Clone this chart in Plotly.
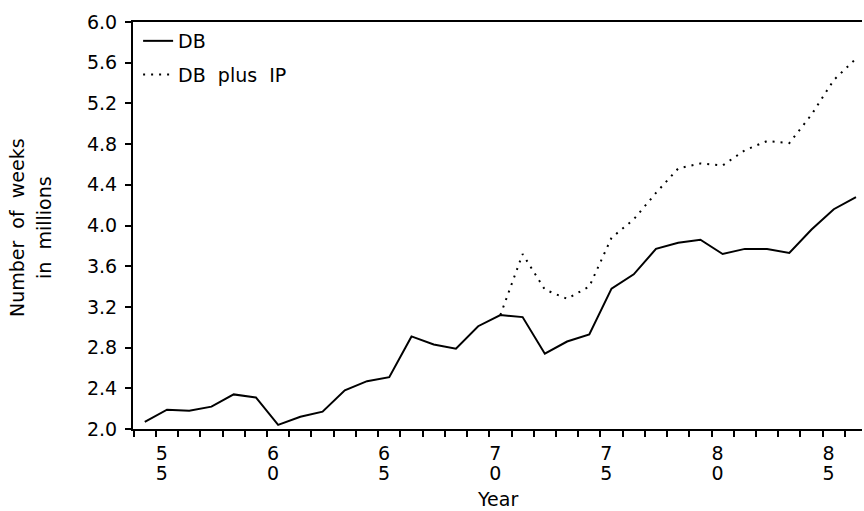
import plotly.graph_objects as go

# ---- data ----
years_db = list(range(1954, 1987))
db = [2.07, 2.19, 2.18, 2.22, 2.34, 2.31, 2.04, 2.12, 2.17, 2.38, 2.47,
      2.51, 2.91, 2.83, 2.79, 3.01, 3.12, 3.10, 2.74, 2.86, 2.93, 3.38,
      3.52, 3.77, 3.83, 3.86, 3.72, 3.77, 3.77, 3.73, 3.96, 4.16, 4.28]

years_ip = list(range(1970, 1987))
db_plus_ip = [3.12, 3.72, 3.37, 3.28, 3.40, 3.88, 4.06, 4.32, 4.56, 4.61,
              4.59, 4.74, 4.83, 4.81, 5.09, 5.43, 5.64]

label_years = [1955, 1960, 1965, 1970, 1975, 1980, 1985]
tick_top = [str(y)[2] for y in label_years]      # tens digit
tick_bottom = [str(y)[3] for y in label_years]   # units digit

FONT = "DejaVu Sans"
FS = 19
BLACK = "#000000"
X_RANGE = [1953.47, 1986.27]
TICK_POS = [y - 0.5 for y in label_years]

fig = go.Figure()
fig.add_trace(go.Scatter(
    x=years_db, y=db, mode="lines", name="DB",
    line=dict(color=BLACK, width=2), legendgroup="a"))
fig.add_trace(go.Scatter(
    x=years_ip, y=db_plus_ip, mode="lines", name="DB\u00a0\u00a0plus\u00a0\u00a0IP",
    line=dict(color=BLACK, width=2, dash="2px,6px"), legendgroup="b"))
# empty trace so the second (units-digit) label axis is drawn
fig.add_trace(go.Scatter(x=[], y=[], xaxis="x2", yaxis="y", mode="lines",
                         showlegend=False, hoverinfo="skip"))

fig.update_layout(
    width=864, height=511,
    margin=dict(l=133, r=2, t=22, b=82, autoexpand=False),
    paper_bgcolor="white", plot_bgcolor="white",
    font=dict(family=FONT, size=FS, color=BLACK),
    showlegend=True,
    legend=dict(x=0.007, y=1, xanchor="left", yanchor="top",
                bgcolor="rgba(0,0,0,0)", font=dict(size=FS),
                tracegroupgap=6, itemwidth=30),
    xaxis=dict(
        range=X_RANGE, automargin=False,
        tickmode="array", tickvals=TICK_POS, ticktext=tick_top,
        ticks="outside", ticklen=6, tickwidth=2, tickcolor=BLACK,
        ticklabelshift=6,
        minor=dict(tickmode="linear", tick0=0.5, dtick=1, ticks="outside",
                   ticklen=6, tickwidth=2, tickcolor=BLACK),
        showline=True, linecolor=BLACK, linewidth=2, mirror=True,
        showgrid=False, zeroline=False,
    ),
    xaxis2=dict(
        range=X_RANGE, automargin=False, overlaying="x", anchor="y", side="bottom",
        tickmode="array", tickvals=TICK_POS, ticktext=tick_bottom,
        ticks="outside", ticklen=6, tickwidth=0, tickcolor="rgba(0,0,0,0)",
        ticklabelshift=6, ticklabelstandoff=21,
        showline=False, showgrid=False, zeroline=False,
    ),
    yaxis=dict(
        range=[2.0, 6.0], automargin=False,
        tick0=2.0, dtick=0.4, tickformat=".1f",
        ticks="outside", ticklen=6, tickwidth=2, tickcolor=BLACK,
        ticklabelstandoff=4,
        showline=True, linecolor=BLACK, linewidth=2,
        showgrid=False, zeroline=False,
    ),
    annotations=[
        dict(text="Year", xref="paper", yref="paper",
             x=0.5, y=-0.172, xanchor="center", yanchor="middle",
             showarrow=False, font=dict(size=FS)),
        dict(text="Number\u00a0\u00a0of\u00a0\u00a0weeks", xref="paper", yref="paper",
             x=-0.159, y=0.494, xanchor="center", yanchor="middle",
             textangle=-90, showarrow=False, font=dict(size=FS)),
        dict(text="in\u00a0\u00a0millions", xref="paper", yref="paper",
             x=-0.122, y=0.494, xanchor="center", yanchor="middle",
             textangle=-90, showarrow=False, font=dict(size=FS)),
    ],
)

fig.write_html("out.html")
